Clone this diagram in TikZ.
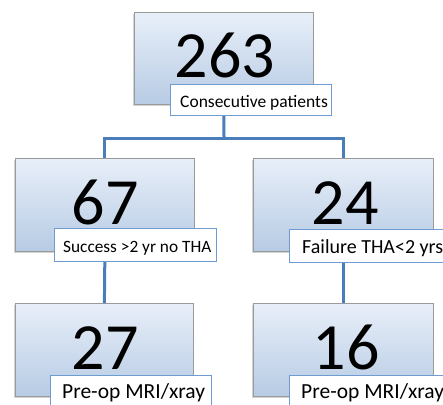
\documentclass[tikz,border=0pt]{standalone}
\usepackage{fontspec}
\setmainfont{Carlito}
\usetikzlibrary{shadows}
\definecolor{linkblue}{HTML}{4A7EBB}
\definecolor{lblborder}{HTML}{6F9BD3}
\definecolor{boxtop}{HTML}{E8EFF9}
\definecolor{boxbot}{HTML}{B7CBE4}
\definecolor{boxborder}{HTML}{9A9A9A}
\tikzset{
  bigbox/.style={draw=boxborder, line width=0.8pt, top color=boxtop, bottom color=boxbot,
    anchor=north west, inner sep=0pt,
    drop shadow={shadow xshift=-1.2pt, shadow yshift=-1.8pt, opacity=0.35, fill=gray}},
  numtext/.style={anchor=base, inner sep=0pt, font=\fontsize{66}{70}\selectfont},
  lblbox/.style={draw=lblborder, fill=white, line width=0.8pt, anchor=north west, inner sep=0pt},
  lbltext/.style={anchor=base west, inner sep=0pt},
  link/.style={draw=linkblue, line width=3pt}
}
\begin{document}
\begin{tikzpicture}[x=1pt,y=-1pt]
\useasboundingbox (0,0) rectangle (443,404);
\clip (0,0) rectangle (443,404);
% big boxes
\node[bigbox, minimum width=179pt, minimum height=92pt] (b0) at (134,12) {};
\node[bigbox, minimum width=179pt, minimum height=93pt] (b1) at (15,158) {};
\node[bigbox, minimum width=180pt, minimum height=93pt] (b2) at (253,158) {};
\node[bigbox, minimum width=178pt, minimum height=93pt] (b3) at (15,303) {};
\node[bigbox, minimum width=180pt, minimum height=93pt] (b4) at (253,303) {};
% connectors
\coordinate (j0) at (224,138);
\draw[link] (b0.south) -- (j0);
\draw[link] (b1.north) |- (j0) -| (b2.north);
\draw[link] (b1.south) -- (b3.north);
\draw[link] (b2.south) -- (b4.north);
% numbers
\node[numtext] (n0) at (225,77) {263};
\node[numtext] (n1) at (105,224) {67};
\node[numtext] (n2) at (345,224) {24};
\node[numtext] (n3) at (105,369) {27};
\node[numtext] (n4) at (346,369) {16};
% labels
\node[lblbox, minimum width=161pt, minimum height=31pt] (l0) at (170,84) {};
\node[lbltext, font=\fontsize{17.5}{20}\selectfont] (t0) at (180,107) {Consecutive patients};
\node[lblbox, minimum width=162pt, minimum height=33pt] (l1) at (54,228) {};
\node[lbltext, font=\fontsize{17.3}{20}\selectfont] (t1) at (63,252) {Success >2 yr no THA};
\node[lblbox, minimum width=170pt, minimum height=33pt] (l2) at (289,229) {};
\node[lbltext, font=\fontsize{20}{23}\selectfont] (t2) at (302,253) {Failure THA<2 yrs};
\node[lblbox, minimum width=161pt, minimum height=40pt] (l3) at (50,375) {};
\node[lbltext, font=\fontsize{21.5}{24}\selectfont] (t3) at (62,398) {Pre-op MRI/xray};
\node[lblbox, minimum width=170pt, minimum height=40pt] (l4) at (289,375) {};
\node[lbltext, font=\fontsize{21.5}{24}\selectfont] (t4) at (301,398) {Pre-op MRI/xray};
\end{tikzpicture}
\end{document}
